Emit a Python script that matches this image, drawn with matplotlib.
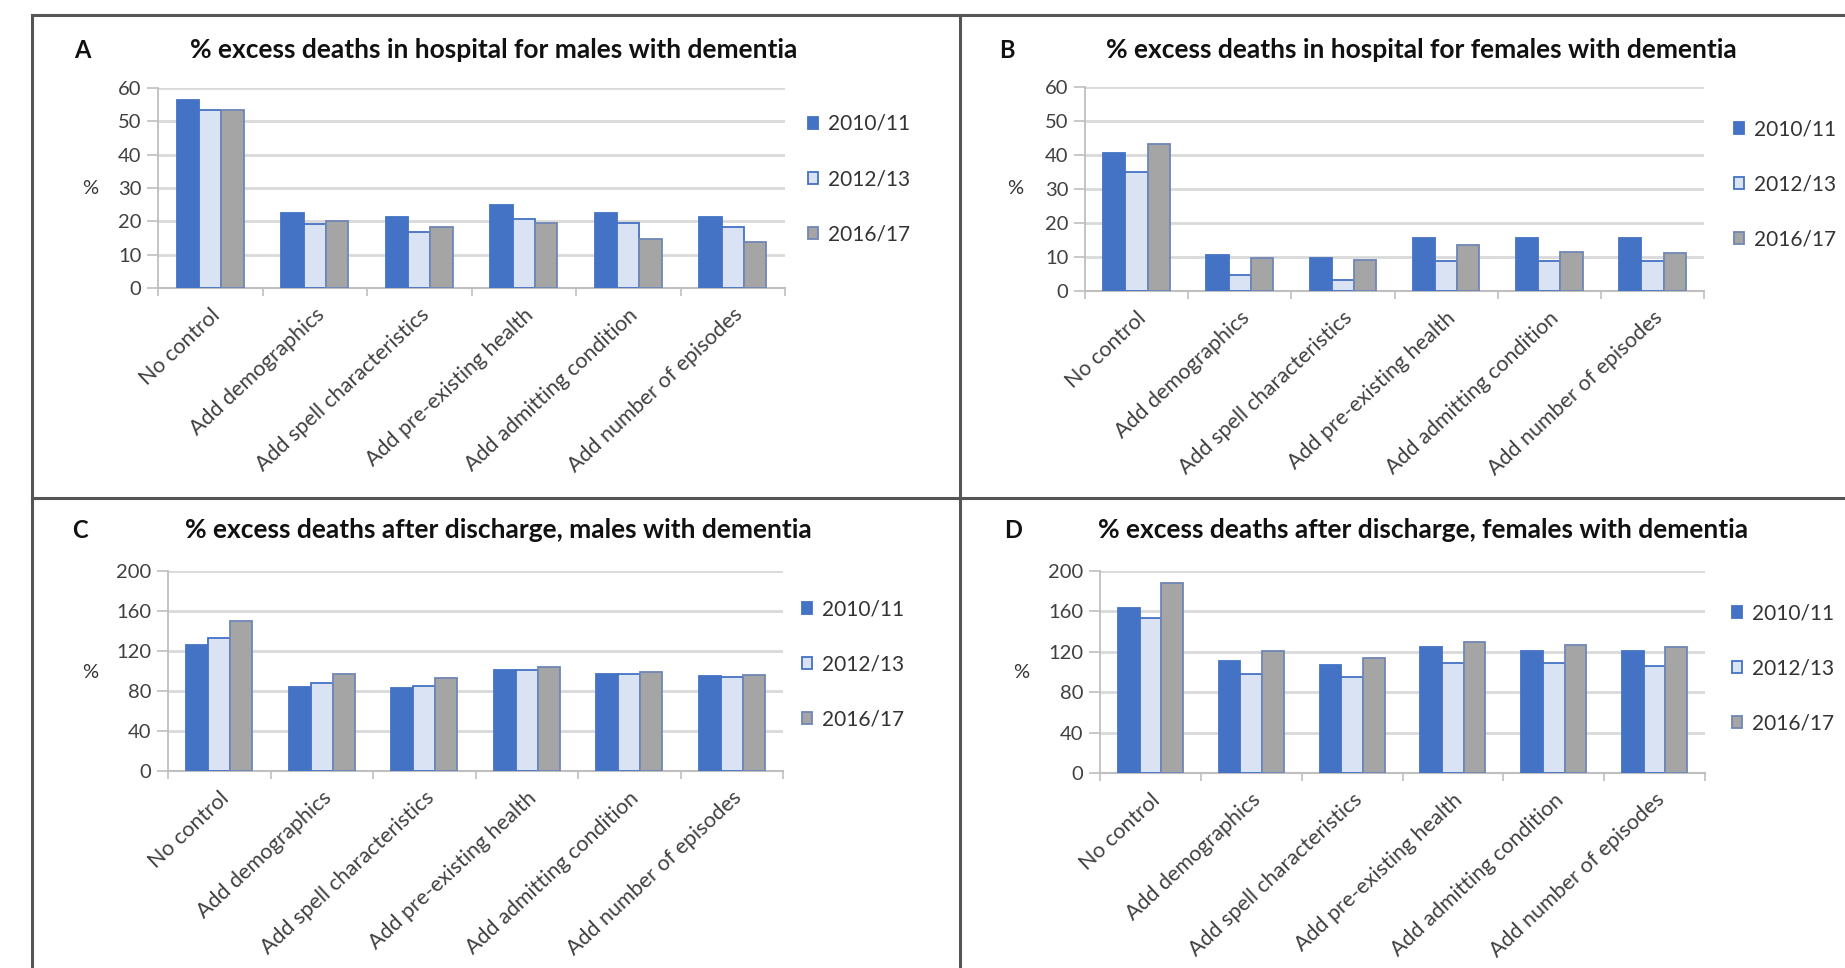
import matplotlib
matplotlib.use("Agg")
import matplotlib.pyplot as plt
from matplotlib.patches import Patch
import numpy as np

plt.rcParams['font.family'] = ['Lato', 'DejaVu Sans']

categories = ["No control", "Add demographics", "Add spell characteristics",
              "Add pre-existing health", "Add admitting condition",
              "Add number of episodes"]
series_labels = ["2010/11", "2012/13", "2016/17"]

# Panel A: in-hospital, males
a_2010 = [56.5, 22.6, 21.2, 24.8, 22.6, 21.2]
a_2012 = [53.4, 19.2, 16.8, 20.8, 19.4, 18.2]
a_2016 = [53.4, 20.2, 18.2, 19.4, 14.6, 13.8]

# Panel B: in-hospital, females
b_2010 = [40.7, 10.6, 9.8, 15.7, 15.7, 15.7]
b_2012 = [35.0, 4.8, 3.2, 8.9, 8.9, 8.9]
b_2016 = [43.1, 9.8, 9.0, 13.6, 11.4, 11.2]

# Panel C: after discharge, males
c_2010 = [126.5, 84.5, 83.0, 101.0, 97.0, 95.0]
c_2012 = [133.0, 88.5, 85.0, 101.5, 97.0, 94.0]
c_2016 = [150.0, 97.0, 93.5, 104.5, 99.0, 96.5]

# Panel D: after discharge, females
d_2010 = [163.0, 111.0, 107.0, 124.5, 120.5, 120.5]
d_2012 = [153.5, 98.5, 95.0, 108.5, 108.5, 105.5]
d_2016 = [188.0, 120.5, 113.5, 129.5, 127.0, 124.5]

panels = [
    ("A", "% excess deaths in hospital for males with dementia",
     (a_2010, a_2012, a_2016), [0, 10, 20, 30, 40, 50, 60]),
    ("B", "% excess deaths in hospital for females with dementia",
     (b_2010, b_2012, b_2016), [0, 10, 20, 30, 40, 50, 60]),
    ("C", "% excess deaths after discharge, males with dementia",
     (c_2010, c_2012, c_2016), [0, 40, 80, 120, 160, 200]),
    ("D", "% excess deaths after discharge, females with dementia",
     (d_2010, d_2012, d_2016), [0, 40, 80, 120, 160, 200]),
]

W, H = 1845, 968
fig = plt.figure(figsize=(W / 100, H / 100), dpi=100)

def fx(px):
    return px / W

def fy(py):
    return 1 - py / H

# axes boxes in pixels: left, right, top, bottom
boxes = [(158, 785, 88, 288), (1085, 1704, 87, 291),
         (168, 783, 571, 771), (1100, 1705, 571, 773)]
letter_pos = [(82, 50), (1007, 50), (80, 530), (1013, 530)]
title_pos = [(494, 50), (1421, 50), (498, 530), (1423, 530)]
pct_pos = [(90, 188), (1015, 189), (90, 672), (1021, 673)]
legend_pos = [(808, 114), (1734, 119), (802, 599), (1732, 603)]

fills = ["#4472C4", "#DAE3F3", "#A5A5A5"]
edges = ["#4472C4", "#4472C4", "#6F86B6"]
grid_c = "#D9D9D9"
tick_c = "#404040"

x = np.arange(len(categories))
bw = 0.215

for i, (letter, title, series, yticks) in enumerate(panels):
    l, r, t, b = boxes[i]
    ax = fig.add_axes([fx(l), fy(b), fx(r - l), (b - t) / H])
    for k, vals in enumerate(series):
        ax.bar(x + (k - 1) * bw, vals, width=bw, color=fills[k],
               edgecolor=edges[k], linewidth=1.3, zorder=3)
    ax.set_xlim(-0.5, len(categories) - 0.5)
    ax.set_ylim(yticks[0], yticks[-1])
    ax.set_yticks(yticks)
    ax.set_yticklabels([str(v) for v in yticks], fontsize=14.5, color=tick_c)
    ax.yaxis.grid(True, color=grid_c, linewidth=2.0, zorder=0)
    ax.set_axisbelow(True)
    ax.set_xticks(x)
    ax.set_xticklabels(categories, rotation=43, ha="right",
                       rotation_mode="anchor", fontsize=15.5, color=tick_c)
    ax.set_xticks(np.arange(-0.5, len(categories) + 0.5, 1), minor=True)
    ax.tick_params(axis="x", which="major", length=0, pad=12)
    ax.tick_params(axis="x", which="minor", length=6, width=1.2, color="#BFBFBF")
    ax.tick_params(axis="y", length=8, width=1.2, color="#BFBFBF", pad=4)
    for side in ["top", "right"]:
        ax.spines[side].set_visible(False)
    ax.spines["left"].set_color("#BFBFBF")
    ax.spines["bottom"].set_color("#BFBFBF")
    ax.spines["left"].set_linewidth(1.3)
    ax.spines["bottom"].set_linewidth(1.5)

    fig.text(fx(letter_pos[i][0]), fy(letter_pos[i][1]), letter, fontsize=17,
             fontweight="bold", ha="center", va="center", color="#111111")
    fig.text(fx(title_pos[i][0]), fy(title_pos[i][1]), title, fontsize=19,
             fontweight="bold", ha="center", va="center", color="#111111")
    fig.text(fx(pct_pos[i][0]), fy(pct_pos[i][1]), "%", fontsize=14.5,
             ha="center", va="center", color="#333333")

    handles = [Patch(facecolor=fills[k], edgecolor=edges[k], linewidth=1.3,
                     label=series_labels[k]) for k in range(3)]
    fig.legend(handles=handles, loc="upper left",
               bbox_to_anchor=(fx(legend_pos[i][0]), fy(legend_pos[i][1])),
               frameon=False, fontsize=15, labelcolor="#333333",
               handlelength=0.5, handleheight=0.5, handletextpad=0.45,
               labelspacing=1.69, borderpad=0, borderaxespad=0)

# Panel frame and dividers
frame_c = "#555555"
fig.add_artist(plt.Line2D([fx(32), fx(W)], [fy(15), fy(15)], color=frame_c, lw=2.2))
fig.add_artist(plt.Line2D([fx(32), fx(32)], [fy(15), fy(H)], color=frame_c, lw=2.2))
fig.add_artist(plt.Line2D([fx(960), fx(960)], [fy(15), fy(H)], color=frame_c, lw=2.2))
fig.add_artist(plt.Line2D([fx(32), fx(W)], [fy(498), fy(498)], color=frame_c, lw=2.2))

fig.savefig("out.png", dpi=100, facecolor="white")
